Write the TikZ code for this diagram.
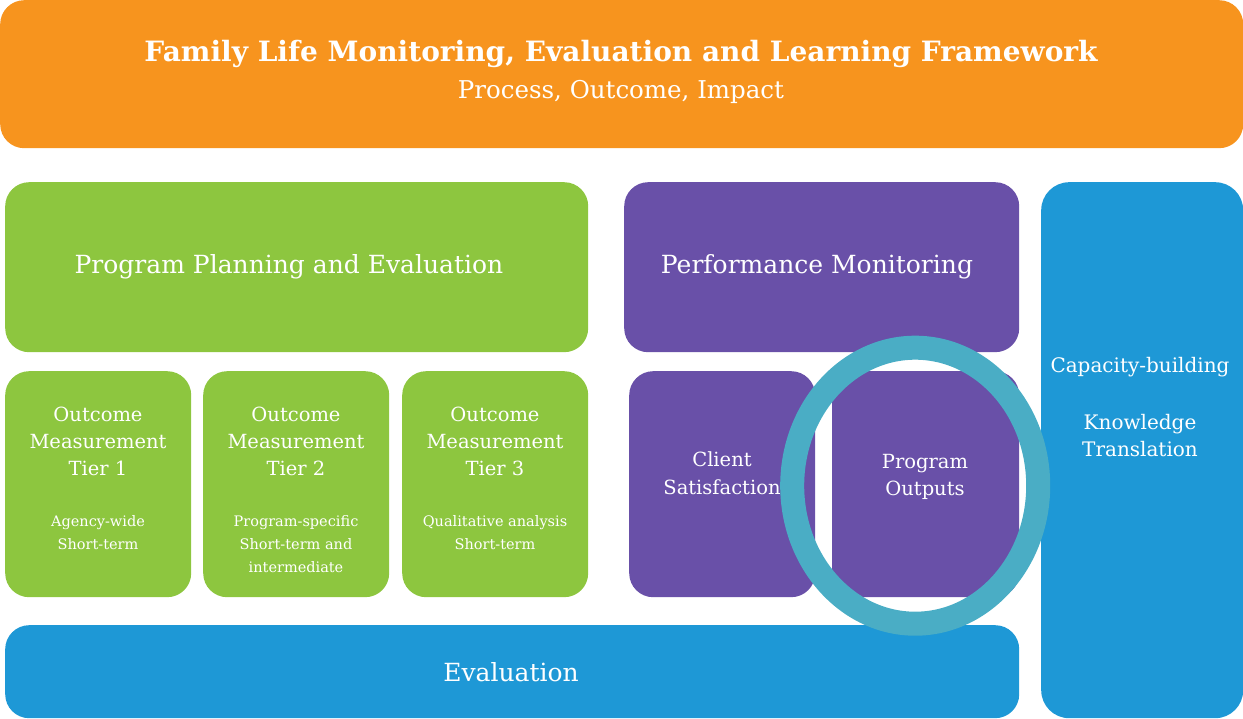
\documentclass[tikz,border=0pt]{standalone}
\usepackage{fontspec}
\setmainfont{DejaVu Serif}
\begin{document}
\begin{tikzpicture}[x=1pt,y=-1pt,
  box/.style={rounded corners=24pt,inner sep=0pt,anchor=north west},
  orangebox/.style={box,fill=flOrange},
  greenbox/.style={box,fill=flGreen},
  purplebox/.style={box,fill=flPurple},
  bluebox/.style={box,fill=flBlue},
  label/.style={text=white,inner sep=0pt,anchor=base},
  big/.style={label,font=\fontsize{25}{30}\selectfont},
  mid/.style={label,font=\fontsize{19.5}{27}\selectfont},
  small/.style={label,font=\fontsize{14.5}{23}\selectfont},
]
\definecolor{flOrange}{HTML}{F7941E}
\definecolor{flGreen}{HTML}{8DC63F}
\definecolor{flPurple}{HTML}{6950A8}
\definecolor{flBlue}{HTML}{1E98D6}
\definecolor{flRing}{HTML}{4AADC5}
\useasboundingbox (0,0) rectangle (1243,719);

% banner
\node[orangebox,minimum width=1243pt,minimum height=148pt] (banner) at (0,0) {};
\node[label,font=\fontsize{28}{32}\selectfont\bfseries] (title) at (621,62)
  {Family Life Monitoring, Evaluation and Learning Framework};
\node[big,font=\fontsize{24.5}{30}\selectfont] (subtitle) at (621,99) {Process, Outcome, Impact};

% main headings
\node[greenbox,minimum width=583pt,minimum height=170pt] (ppe) at (5,182) {};
\node[big] (ppetext) at (289,274) {Program Planning and Evaluation};
\node[purplebox,minimum width=395pt,minimum height=170pt] (pm) at (624,182) {};
\node[big] (pmtext) at (817,274) {Performance Monitoring};

% capacity column
\node[bluebox,minimum width=202pt,minimum height=536pt,rounded corners=28pt] (cap) at (1041,182) {};
\node[mid,font=\fontsize{20}{27}\selectfont] (cap1) at (1140,373) {Capacity-building};
\node[mid,font=\fontsize{20}{27}\selectfont] (cap2) at (1140,429) {Knowledge};
\node[mid,font=\fontsize{20}{27}\selectfont] (cap3) at (1140,456) {Translation};

% outcome tiers
\tikzset{tier/.style={greenbox,minimum width=186pt,minimum height=226pt}}
\node[tier] (t1) at (5,371) {};
\node[tier] (t2) at (203,371) {};
\node[tier] (t3) at (402,371) {};
\foreach \n/\x/\k in {t1/98/1,t2/296/2,t3/495/3}{
  \node[mid] (\n a) at (\x,421) {Outcome};
  \node[mid] (\n b) at (\x,448) {Measurement};
  \node[mid] (\n c) at (\x,475) {Tier \k};
}
\node[small] (t1d) at (98,526) {Agency-wide};
\node[small] (t1e) at (98,549) {Short-term};
\node[small] (t2d) at (296,526) {Program-specific};
\node[small] (t2e) at (296,549) {Short-term and};
\node[small] (t2f) at (296,572) {intermediate};
\node[small] (t3d) at (495,526) {Qualitative analysis};
\node[small] (t3e) at (495,549) {Short-term};

% monitoring components
\node[purplebox,minimum width=186pt,minimum height=226pt] (cs) at (629,371) {};
\node[mid] (cs1) at (722,466) {Client};
\node[mid] (cs2) at (722,494) {Satisfaction};
\node[purplebox,minimum width=187pt,minimum height=226pt] (po) at (832,371) {};
\node[mid] (po1) at (925,468) {Program};
\node[mid] (po2) at (925,495) {Outputs};

% evaluation bar
\node[bluebox,minimum width=1014pt,minimum height=93pt] (ev) at (5,625) {};
\node[big] (evtext) at (511,681) {Evaluation};

% highlight ring
\draw[flRing,line width=24pt] (po.center) ++(-10.5,1.5) ellipse [x radius=123, y radius=138];
\end{tikzpicture}
\end{document}
